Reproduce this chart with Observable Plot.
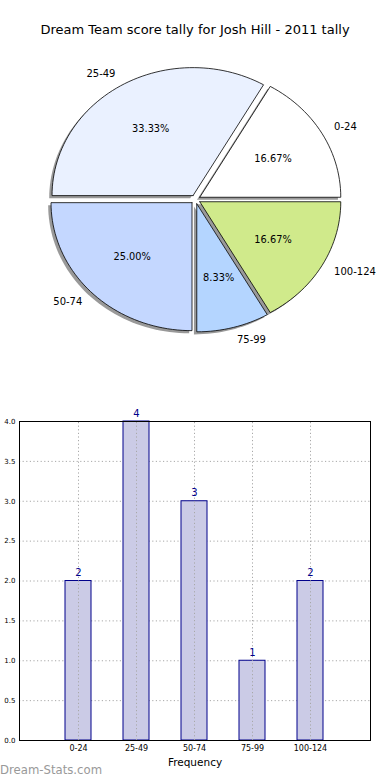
<!DOCTYPE html>
<html><head><meta charset="utf-8">
<script src="https://cdn.jsdelivr.net/npm/d3@7"></script>
<script src="https://cdn.jsdelivr.net/npm/@observablehq/plot@0.6"></script>
<style>
body{margin:0;background:#fff;font-family:"DejaVu Sans",sans-serif;}
#wrap{position:relative;width:390px;height:780px;overflow:hidden;background:#fff;}
#title{position:absolute;top:22px;left:0;width:390px;text-align:center;font-size:13px;color:#000;}
#pie{position:absolute;top:40px;left:0;}
#bar{position:absolute;top:400px;left:0;}
#wm{position:absolute;left:0;top:763px;font-size:11.7px;color:#999;}
</style></head><body>
<div id="wrap">
<div id="title">Dream Team score tally for Josh Hill - 2011 tally</div>
<div id="pie"></div>
<div id="bar"></div>
<div id="wm">Dream-Stats.com</div>
</div>
<script>
const categories = ["0-24", "25-49", "50-74", "75-99", "100-124"];
const counts = [2, 4, 3, 1, 2];
const sliceColors = ["#ffffff", "#eaf1ff", "#c4d7ff", "#b4d5ff", "#d0ea8b"];
const yTicks = [0, 0.5, 1, 1.5, 2, 2.5, 3, 3.5, 4];
const xLabel = "Frequency";

// ---- pie geometry derived from counts ----
const total = d3.sum(counts);
const explode = 0.035;
const shadowOff = 0.02;
let cum = 0;
const slices = categories.map((c, i) => {
  const frac = counts[i] / total;
  const a0 = cum * 2 * Math.PI, a1 = (cum + frac) * 2 * Math.PI;
  cum += frac;
  const mid = (a0 + a1) / 2;
  return {cat: c, i, frac, a0, a1, mid, cx: explode * Math.cos(mid), cy: explode * Math.sin(mid), color: sliceColors[i]};
});
const poly = [];
const shadowPoly = [];
for (const s of slices) {
  const n = Math.max(8, Math.ceil((s.a1 - s.a0) / (2 * Math.PI) * 180));
  const pts = [[s.cx, s.cy]];
  for (let k = 0; k <= n; k++) {
    const a = s.a0 + (s.a1 - s.a0) * k / n;
    pts.push([s.cx + Math.cos(a), s.cy + Math.sin(a)]);
  }
  pts.push([s.cx, s.cy]);
  for (const [x, y] of pts) {
    poly.push({cat: s.cat, x, y, color: s.color});
    shadowPoly.push({cat: s.cat, x: x - shadowOff, y: y - shadowOff});
  }
}
const pctLabels = slices.map(s => ({x: s.cx + 0.6 * Math.cos(s.mid), y: s.cy + 0.6 * Math.sin(s.mid), t: (s.frac * 100).toFixed(2) + "%"}));
const outLabels = slices.map(s => ({x: s.cx + 1.1 * Math.cos(s.mid), y: s.cy + 1.1 * Math.sin(s.mid), t: s.cat}));

const pie = Plot.plot({
  width: 390, height: 320, margin: 0,
  style: {fontFamily: "DejaVu Sans, sans-serif", background: "transparent", overflow: "visible"},
  x: {domain: [-1, 1], range: [54, 336], axis: null},
  y: {domain: [-1, 1], range: [287, 31], axis: null},
  color: {type: "identity"},
  marks: [
    Plot.line(shadowPoly, {x: "x", y: "y", z: "cat", fill: "#333", fillOpacity: 0.5, stroke: "none", curve: "linear"}),
    Plot.line(poly, {x: "x", y: "y", z: "cat", fill: "color", stroke: "#000", strokeWidth: 0.8, strokeLinejoin: "miter", curve: "linear"}),
    Plot.text(pctLabels, {x: "x", y: "y", text: "t", fontSize: 9.8, fill: "#000"}),
    Plot.text(outLabels.filter(d => d.x >= 0), {x: "x", y: "y", text: "t", fontSize: 10, fill: "#000", textAnchor: "start"}),
    Plot.text(outLabels.filter(d => d.x < 0), {x: "x", y: "y", text: "t", fontSize: 10, fill: "#000", textAnchor: "end"})
  ]
});
document.getElementById("pie").appendChild(pie);

// ---- bar chart ----
const barData = categories.map((c, i) => ({cat: c, v: counts[i]}));
const bar = Plot.plot({
  width: 390, height: 380,
  marginLeft: 19, marginRight: 20, marginTop: 21, marginBottom: 40,
  style: {fontFamily: "DejaVu Sans, sans-serif", background: "transparent", overflow: "visible"},
  x: {type: "band", domain: categories, paddingInner: 0.55, paddingOuter: 0.775, label: null, axis: null},
  y: {domain: [0, 4], axis: null},
  marks: [
    Plot.ruleY(yTicks, {y: d => d, stroke: "#a8a8a8", strokeDasharray: "1.2,2.4", strokeWidth: 1}),
    Plot.barY(barData, {x: "cat", y: "v", fill: "#cbcbe6", stroke: "#00008b", strokeWidth: 1}),
    Plot.ruleX(categories, {x: d => d, y1: 0, y2: 4, stroke: "#a8a8a8", strokeDasharray: "1.2,2.4", strokeWidth: 1}),
    Plot.frame({stroke: "#000", strokeWidth: 1}),
    Plot.text(barData, {x: "cat", y: "v", text: d => String(d.v), dy: -8, fontSize: 10, fill: "#00008b"}),
    Plot.axisY({ticks: yTicks, tickFormat: d3.format(".1f"), tickSize: 0, tickPadding: 4, fontSize: 7, label: null, color: "#000"}),
    Plot.axisX({tickSize: 0, tickPadding: 5, fontSize: 8, label: null, color: "#000"}),
    Plot.text([xLabel], {frameAnchor: "bottom", dy: 25, text: d => d, fontSize: 10.5, fill: "#000"})
  ]
});
document.getElementById("bar").appendChild(bar);
</script>
</body></html>
